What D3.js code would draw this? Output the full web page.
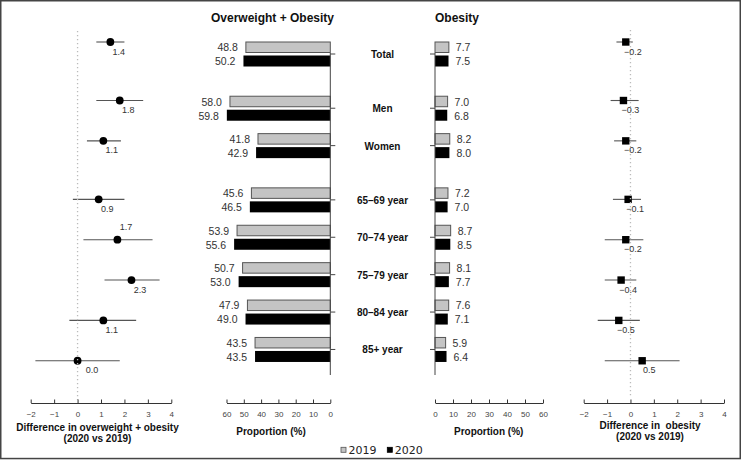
<!DOCTYPE html>
<html>
<head>
<meta charset="utf-8">
<script src="https://cdn.jsdelivr.net/npm/d3@7"></script>
<style>
  html, body { margin: 0; padding: 0; background: #fff; }
  svg { display: block; font-family: "Liberation Sans", Arial, sans-serif; }
</style>
</head>
<body>
<svg id="chart" width="743" height="461"></svg>
<script>
// ---------------- data ----------------
const categories = ["Total", "Men", "Women", "65\u201369 year", "70\u201374 year", "75\u201379 year", "80\u201384 year", "85+ year"];
const groups = [0, 1, 1, 2, 2, 2, 2, 2];

const ow2019 = [48.8, 58.0, 41.8, 45.6, 53.9, 50.7, 47.9, 43.5];
const ow2020 = [50.2, 59.8, 42.9, 46.5, 55.6, 53.0, 49.0, 43.5];
const ob2019 = [7.7, 7.0, 8.2, 7.2, 8.7, 8.1, 7.6, 5.9];
const ob2020 = [7.5, 6.8, 8.0, 7.0, 8.5, 7.7, 7.1, 6.4];

const owDiff = [1.4, 1.8, 1.1, 0.9, 1.7, 2.3, 1.1, 0.0];
const owLow  = [0.8, 0.8, 0.4, -0.2, 0.25, 1.15, -0.35, -1.8];
const owHigh = [2.0, 2.8, 1.85, 2.0, 3.2, 3.5, 2.5, 1.8];

const obDiff = [-0.2, -0.3, -0.2, -0.1, -0.2, -0.4, -0.5, 0.5];
const obLow  = [-0.6, -0.85, -0.7, -0.75, -1.1, -1.1, -1.4, -1.1];
const obHigh = [0.1, 0.35, 0.25, 0.45, 0.55, 0.25, 0.4, 2.1];

const diffTicks = [-2, -1, 0, 1, 2, 3, 4];
const propTicks = [0, 10, 20, 30, 40, 50, 60];
const legendYears = ["2019", "2020"];
const labelAbove = [false, false, false, false, true, false, false, false];

// ---------------- layout ----------------
const svg = d3.select("#chart");
const GAP = 0.45;
const pos = categories.map((c, i) => i + groups[i] * GAP);
const posMax = pos[pos.length - 1];

const yForest = d3.scaleLinear().domain([0, posMax]).range([42, 42 + posMax * 40.35]);
const yBar = d3.scaleLinear().domain([0, posMax]).range([54, 54 + posMax * 37.4]);

const xOwDiff = d3.scaleLinear().domain([-2, 4]).range([30.7, 171.3]);
const xObDiff = d3.scaleLinear().domain([-2, 4]).range([583.7, 724]);
const xOw = d3.scaleLinear().domain([0, 60]).range([330.3, 226.5]);
const xOb = d3.scaleLinear().domain([0, 60]).range([435, 543]);

const AXIS_Y = 403;
const fmt1 = d => d.toFixed(1).replace("-", "\u2212");
const fmtTick = d => String(d).replace("-", "\u2212");

// frame
svg.append("rect").attr("x", 0.75).attr("y", 0.75).attr("width", 739.5).attr("height", 457.8)
  .attr("fill", "none").attr("stroke", "#444").attr("stroke-width", 1.5);

function bottomAxis(scale, ticks) {
  const g = svg.append("g").attr("transform", `translate(0,${AXIS_Y})`)
    .call(d3.axisBottom(scale).tickValues(ticks).tickFormat(fmtTick)
      .tickSizeInner(-3.5).tickSizeOuter(0).tickPadding(8));
  g.select(".domain").attr("stroke", "#333");
  g.selectAll(".tick line").attr("stroke", "#333");
  g.selectAll(".tick text").attr("font-size", 8).attr("fill", "#444")
    .attr("font-family", "Liberation Sans, Arial, sans-serif");
  return g;
}

// ---------------- forest panels ----------------
function forest(xs, est, lo, hi, shape, labelDx, zeroTop, zeroBottom) {
  const g = svg.append("g");
  g.selectAll("line.ci").data(categories).join("line")
    .attr("x1", (d, i) => xs(lo[i])).attr("x2", (d, i) => xs(hi[i]))
    .attr("y1", (d, i) => yForest(pos[i])).attr("y2", (d, i) => yForest(pos[i]))
    .attr("stroke", "#555").attr("stroke-width", 1.1);
  if (shape === "circle") {
    g.selectAll("circle").data(categories).join("circle")
      .attr("cx", (d, i) => xs(est[i])).attr("cy", (d, i) => yForest(pos[i]))
      .attr("r", 3.9).attr("fill", "#000");
  } else {
    const s = 7.4;
    g.selectAll("rect").data(categories).join("rect")
      .attr("x", (d, i) => xs(est[i]) - s / 2).attr("y", (d, i) => yForest(pos[i]) - s / 2)
      .attr("width", s).attr("height", s).attr("fill", "#000");
  }
  // zero reference line drawn over the marks
  g.append("line").attr("x1", xs(0)).attr("x2", xs(0)).attr("y1", zeroTop).attr("y2", zeroBottom)
    .attr("stroke", "#bbb").attr("stroke-width", 1.3).attr("stroke-dasharray", "1.3,2.7");
  g.selectAll("text").data(categories).join("text")
    .attr("x", (d, i) => xs(est[i]) + labelDx + (est[i] === 0 ? 6 : 0))
    .attr("y", (d, i) => yForest(pos[i]) + (labelAbove[i] && shape === "circle" ? -9.5 : 12.5))
    .attr("text-anchor", "middle").attr("font-size", 9).attr("fill", "#333")
    .text((d, i) => fmt1(est[i]));
}

forest(xOwDiff, owDiff, owLow, owHigh, "circle", 8.5, 31, 400);
forest(xObDiff, obDiff, obLow, obHigh, "square", 7, 30, 397);
bottomAxis(xOwDiff, diffTicks);
bottomAxis(xObDiff, diffTicks);

// ---------------- bar panels ----------------
const BAR_H = 10.5;
function bars(xs, v19, v20, side) {
  const g = svg.append("g");
  const x0 = xs(0);
  g.selectAll("rect.b19").data(categories).join("rect")
    .attr("x", (d, i) => Math.min(x0, xs(v19[i])))
    .attr("y", (d, i) => yBar(pos[i]) - 12)
    .attr("width", (d, i) => Math.abs(xs(v19[i]) - x0)).attr("height", BAR_H)
    .attr("fill", "#c4c4c4").attr("stroke", "#555").attr("stroke-width", 1);
  g.selectAll("rect.b20").data(categories).join("rect")
    .attr("x", (d, i) => Math.min(x0, xs(v20[i])))
    .attr("y", (d, i) => yBar(pos[i]) + 1.5)
    .attr("width", (d, i) => Math.abs(xs(v20[i]) - x0)).attr("height", 11)
    .attr("fill", "#000");
  const anchor = side === "left" ? "end" : "start";
  const dx = side === "left" ? -8 : 7;
  g.selectAll("text.t19").data(categories).join("text")
    .attr("x", (d, i) => xs(v19[i]) + dx).attr("y", (d, i) => yBar(pos[i]) - 6.5)
    .attr("dy", "0.36em").attr("text-anchor", anchor).attr("font-size", 10.5).attr("fill", "#333")
    .text((d, i) => v19[i].toFixed(1));
  g.selectAll("text.t20").data(categories).join("text")
    .attr("x", (d, i) => xs(v20[i]) + dx).attr("y", (d, i) => yBar(pos[i]) + 7.5)
    .attr("dy", "0.36em").attr("text-anchor", anchor).attr("font-size", 10.5).attr("fill", "#333")
    .text((d, i) => v20[i].toFixed(1));
  // vertical category axis
  g.append("line").attr("x1", x0).attr("x2", x0).attr("y1", 53).attr("y2", 375)
    .attr("stroke", "#444").attr("stroke-width", 1);
  const tdir = side === "left" ? 5 : -5;
  g.selectAll("line.tk").data(categories).join("line")
    .attr("x1", x0).attr("x2", x0 + tdir)
    .attr("y1", (d, i) => yBar(pos[i])).attr("y2", (d, i) => yBar(pos[i]))
    .attr("stroke", "#444").attr("stroke-width", 1);
}
bars(xOw, ow2019, ow2020, "left");
bars(xOb, ob2019, ob2020, "right");
bottomAxis(xOw, propTicks);
bottomAxis(xOb, propTicks);

// category labels
svg.append("g").selectAll("text").data(categories).join("text")
  .attr("x", 382.5).attr("y", (d, i) => yBar(pos[i]) + 4)
  .attr("text-anchor", "middle").attr("font-size", 10).attr("font-weight", "bold").attr("fill", "#111")
  .text(d => d);

// titles
svg.append("text").attr("x", 334).attr("y", 22).attr("text-anchor", "end")
  .attr("font-size", 12).attr("font-weight", "bold").attr("fill", "#111").text("Overweight + Obesity");
svg.append("text").attr("x", 435).attr("y", 22).attr("text-anchor", "start")
  .attr("font-size", 12).attr("font-weight", "bold").attr("fill", "#111").text("Obesity");

// axis titles
function axisTitle(x, lines, y0) {
  lines.forEach((t, k) => {
    svg.append("text").attr("x", x).attr("y", y0 + k * 11).attr("text-anchor", "middle")
      .attr("font-size", 10).attr("font-weight", "bold").attr("fill", "#111")
      .attr("xml:space", "preserve").style("white-space", "pre").text(t);
  });
}
axisTitle(97.5, ["Difference in overweight + obesity", "(2020 vs 2019)"], 430.5);
axisTitle(271, ["Proportion (%)"], 434.5);
axisTitle(488.7, ["Proportion (%)"], 434.5);
axisTitle(650, ["Difference in  obesity", "(2020 vs 2019)"], 429);

// legend
const legendFill = ["#c4c4c4", "#000"];
const legendX = [341, 387.3];
const lg = svg.append("g");
legendYears.forEach((yr, k) => {
  lg.append("rect").attr("x", legendX[k]).attr("y", 447.3).attr("width", 5).attr("height", 5)
    .attr("fill", legendFill[k]).attr("stroke", k === 0 ? "#555" : "#000").attr("stroke-width", 0.8);
  lg.append("text").attr("x", legendX[k] + 7.5).attr("y", 454)
    .attr("font-family", "DejaVu Sans, sans-serif").attr("font-size", 11).attr("fill", "#222").text(yr);
});
</script>
</body>
</html>
